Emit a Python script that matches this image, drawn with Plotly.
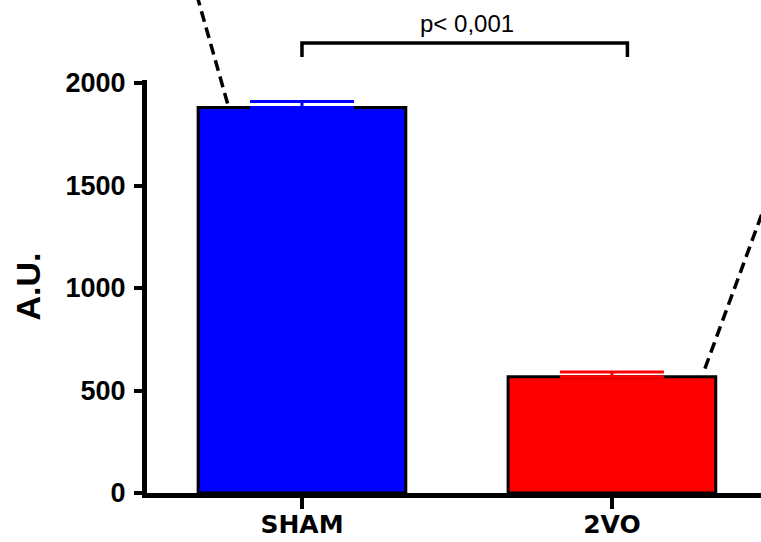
import plotly.graph_objects as go

# ---- data ----
categories = ["SHAM", "2VO"]
means = [1880, 567]
sems = [30, 23]
bar_colors = ["#0000FF", "#FF0000"]
y_tickvals = [0, 500, 1000, 1500, 2000]
p_label = "p< 0,001"
y_title = "A.U."

# ---- layout geometry ----
W, H = 761, 542
ML, MR, MT, MB = 147, 0, 0, 49
X_RANGE = [-0.5, 1.481]
Y_TOP = 2015            # top of the y axis (just above 2000)
FULL_TOP = 2405         # data value at the top edge of the figure
DOM_TOP = Y_TOP / FULL_TOP

def px(xd):
    return (xd - X_RANGE[0]) / (X_RANGE[1] - X_RANGE[0])

def py(v):
    return v / FULL_TOP

FONT = "Liberation Sans, Arial, sans-serif"
WIDE = "DejaVu Sans, Verdana, sans-serif"

fig = go.Figure()
for i, cat in enumerate(categories):
    fig.add_trace(go.Bar(
        x=[i], y=[means[i]], width=0.67,
        marker=dict(color=bar_colors[i], line=dict(color="black", width=3)),
        error_y=dict(type="data", array=[sems[i]], arrayminus=[0], symmetric=False,
                     color=bar_colors[i], thickness=3, width=52),
        showlegend=False, hoverinfo="skip",
    ))

shapes = []
# significance bracket
br_y, leg_y = 2195, 2127
shapes.append(dict(type="path", xref="paper", yref="paper",
                   path=f"M {px(0)} {py(leg_y)} L {px(0)} {py(br_y)} L {px(1.05)} {py(br_y)} L {px(1.05)} {py(leg_y)}",
                   line=dict(color="black", width=3.5)))
# dashed zoom lines
shapes.append(dict(type="line", xref="paper", yref="paper",
                   x0=px(-0.24), y0=py(means[0] + 20), x1=px(-0.345), y1=py(2460),
                   line=dict(color="black", width=3.5, dash="11px,6px")))
shapes.append(dict(type="line", xref="paper", yref="paper",
                   x0=px(1.30), y0=py(means[1] + 40), x1=px(1.62), y1=py(1920),
                   line=dict(color="black", width=3.5, dash="11px,6px")))

annotations = [dict(xref="paper", yref="paper", x=px(0.532), y=py(2290),
                    text=p_label, showarrow=False, xanchor="center", yanchor="middle",
                    font=dict(family=FONT, size=24, color="black"))]

fig.update_layout(
    width=W, height=H,
    margin=dict(l=ML, r=MR, t=MT, b=MB),
    plot_bgcolor="white", paper_bgcolor="white",
    barmode="overlay",
    shapes=shapes, annotations=annotations,
    xaxis=dict(range=X_RANGE, tickvals=[0, 1], ticktext=categories,
               showline=True, linecolor="black", linewidth=5,
               ticks="outside", ticklen=11, tickwidth=4, tickcolor="black",
               showgrid=False, zeroline=False, automargin=False,
               ticklabelstandoff=-6,
               tickfont=dict(family=WIDE, size=25, color="black", weight="bold")),
    yaxis=dict(range=[0, Y_TOP], domain=[0, DOM_TOP], tickvals=y_tickvals,
               showline=True, linecolor="black", linewidth=5,
               ticks="outside", ticklen=8, tickwidth=4, tickcolor="black",
               showgrid=False, zeroline=False, automargin=False,
               ticklabelstandoff=3,
               tickfont=dict(family=FONT, size=27, color="black", weight="bold"),
               title=dict(text=y_title, standoff=16,
                          font=dict(family=FONT, size=34, color="black", weight="bold"))),
)

fig.write_html("out.html", config={"displayModeBar": False},
               post_script="document.body.style.margin='0';document.body.style.overflow='hidden';")
